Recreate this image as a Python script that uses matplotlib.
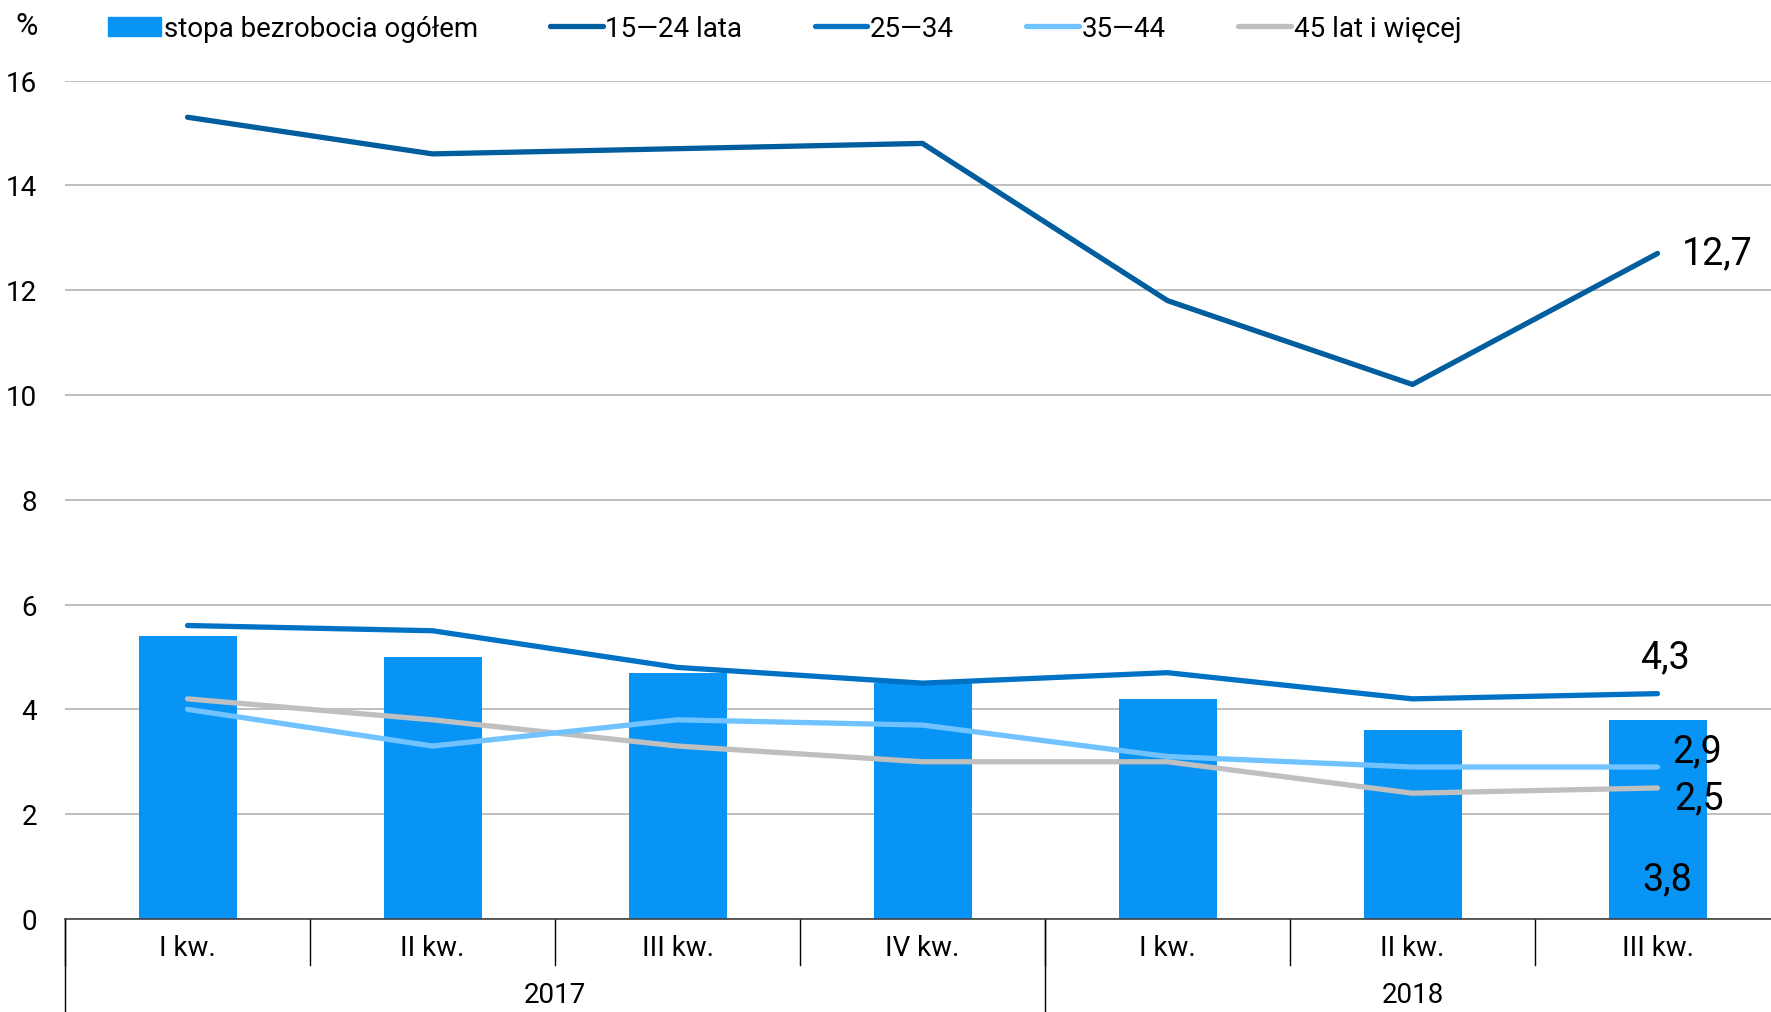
import matplotlib
matplotlib.use("Agg")
import matplotlib.pyplot as plt
from matplotlib.transforms import blended_transform_factory
from matplotlib.lines import Line2D
from matplotlib.patches import Patch

plt.rcParams['font.family'] = ['Roboto', 'DejaVu Sans']

# dane
quarters = ["I kw.", "II kw.", "III kw.", "IV kw.", "I kw.", "II kw.", "III kw."]
years = ["2017", "2018"]
year_spans = [(0, 3), (4, 6)]

total = [5.4, 5.0, 4.7, 4.5, 4.2, 3.6, 3.8]
age_15_24 = [15.3, 14.6, 14.7, 14.8, 11.8, 10.2, 12.7]
age_25_34 = [5.6, 5.5, 4.8, 4.5, 4.7, 4.2, 4.3]
age_35_44 = [4.0, 3.3, 3.8, 3.7, 3.1, 2.9, 2.9]
age_45_plus = [4.2, 3.8, 3.3, 3.0, 3.0, 2.4, 2.5]

C_BAR = "#0894F4"
C_1524 = "#005D9E"
C_2534 = "#0072C6"
C_3544 = "#70C3FF"
C_45 = "#BFBFBF"


def main():
    fig = plt.figure(figsize=(17.71, 10.125), dpi=100)
    # oś wychodzi lekko poza prawą krawędź, jak w oryginale
    ax = fig.add_axes([65 / 1771, 1 - 919 / 1012, 1715 / 1771, 838 / 1012])

    x = list(range(len(quarters)))
    ax.bar(x, total, width=0.4, color=C_BAR, zorder=2)

    lw = 3.8
    ax.plot(x, age_45_plus, color=C_45, lw=lw, solid_capstyle='round', zorder=3)
    ax.plot(x, age_35_44, color=C_3544, lw=lw, solid_capstyle='round', zorder=3)
    ax.plot(x, age_25_34, color=C_2534, lw=lw, solid_capstyle='round', zorder=4)
    ax.plot(x, age_15_24, color=C_1524, lw=lw, solid_capstyle='round', zorder=4)

    ax.set_xlim(-0.5, len(quarters) - 0.5)
    ax.set_ylim(0, 16)
    ax.set_yticks(range(0, 17, 2))
    ax.tick_params(axis='y', length=0, pad=20, labelsize=20)
    ax.set_xticks([])
    ax.grid(axis='y', color='#B4B4B4', lw=1.2, zorder=0)
    for s in ['left', 'right', 'top']:
        ax.spines[s].set_visible(False)
    ax.spines['bottom'].set_color('#404040')
    ax.spines['bottom'].set_linewidth(1.2)

    # etykiety danych (ostatni kwartał)
    last = len(quarters) - 1
    fs = 27
    ax.text(last + 0.1, age_15_24[-1], f"{age_15_24[-1]:.1f}".replace('.', ','),
            fontsize=fs, va='center', ha='left')
    ax.text(last + 0.03, age_25_34[-1] + 0.7, f"{age_25_34[-1]:.1f}".replace('.', ','),
            fontsize=fs, va='center', ha='center')
    ax.text(last + 0.06, age_35_44[-1] + 0.3, f"{age_35_44[-1]:.1f}".replace('.', ','),
            fontsize=fs, va='center', ha='left')
    ax.text(last + 0.07, age_45_plus[-1] - 0.2, f"{age_45_plus[-1]:.1f}".replace('.', ','),
            fontsize=fs, va='center', ha='left')
    ax.text(last + 0.04, 0.75, f"{total[-1]:.1f}".replace('.', ','),
            fontsize=fs, va='center', ha='center')

    # dwupoziomowa oś kategorii
    tr = blended_transform_factory(ax.transData, ax.transAxes)
    for i, q in enumerate(quarters):
        ax.text(i, -0.035, q, transform=tr, ha='center', va='center', fontsize=20)
    for k in range(len(quarters)):
        ax.plot([k - 0.5, k - 0.5], [0, -0.055], transform=tr, color='black',
                lw=1, clip_on=False)
    for (a, b), y in zip(year_spans, years):
        ax.text((a + b) / 2, -0.0905, y, transform=tr, ha='center', va='center', fontsize=20)
        ax.plot([a - 0.5, a - 0.5], [0, -0.12], transform=tr, color='black',
                lw=1, clip_on=False)

    fig.text(27 / 1771, 1 - 26 / 1012, "%", fontsize=22, ha='center', va='center')

    handles = [
        Patch(color=C_BAR),
        Line2D([], [], color=C_1524, lw=lw, solid_capstyle='round'),
        Line2D([], [], color=C_2534, lw=lw, solid_capstyle='round'),
        Line2D([], [], color=C_3544, lw=lw, solid_capstyle='round'),
        Line2D([], [], color=C_45, lw=lw, solid_capstyle='round'),
    ]
    labels = ["stopa bezrobocia ogółem", "15\u201424 lata", "25\u201434", "35\u201444",
              "45 lat i więcej"]
    fig.legend(handles, labels, loc='center left', bbox_to_anchor=(108 / 1771, 1 - 29 / 1012),
               ncol=5, frameon=False, fontsize=20, handlelength=1.9, handletextpad=0.1,
               columnspacing=2.6, borderpad=0, borderaxespad=0)

    fig.savefig("out.png", dpi=100)


if __name__ == "__main__":
    main()
